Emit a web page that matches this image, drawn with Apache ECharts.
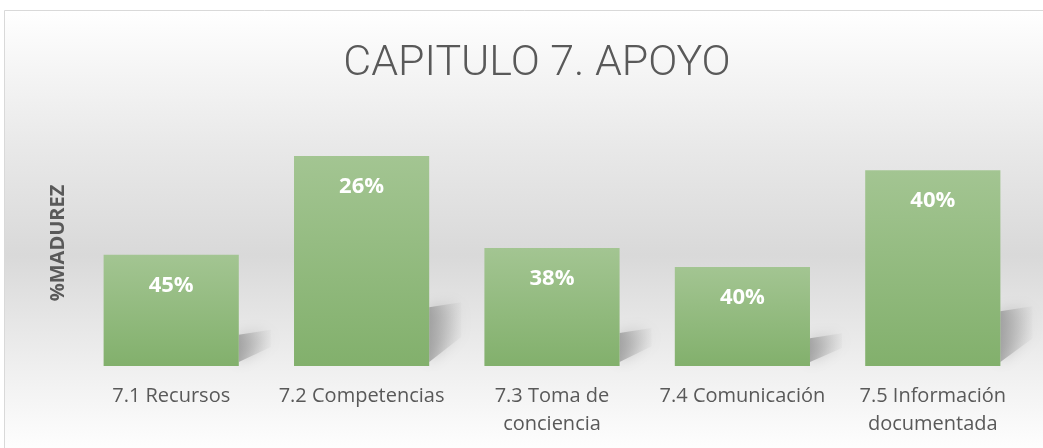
<!DOCTYPE html>
<html>
<head>
<meta charset="utf-8">
<script src="https://cdn.jsdelivr.net/npm/echarts@6/dist/echarts.min.js"></script>
<style>
  html, body { margin: 0; padding: 0; background: #ffffff; }
  #chart { width: 1043px; height: 448px; }
</style>
</head>
<body>
<div id="chart"></div>
<script>
// categorias del eje x
const categorias = ['7.1 Recursos', '7.2 Competencias', '7.3 Toma de\nconciencia', '7.4 Comunicación', '7.5 Información\ndocumentada']
// altura de cada barra (escala 0-5)
const alturas = [2.26, 4.27, 2.40, 2.01, 3.98]
// texto dentro de cada barra
const etiquetas = ['45%', '26%', '38%', '40%', '40%']

const chart = echarts.init(document.getElementById('chart'))

chart.setOption({
    animation: false,
    graphic: [
        {
            type: 'rect',
            z: -10,
            silent: true,
            shape: { x: 4.5, y: 10.5, width: 1045, height: 445 },
            style: {
                stroke: '#d9d9d9',
                lineWidth: 1,
                fill: new echarts.graphic.LinearGradient(0, 0, 0, 1, [
                    { offset: 0, color: '#ffffff' },
                    { offset: 0.3, color: '#e9e9e9' },
                    { offset: 0.55, color: '#d9d9d9' },
                    { offset: 0.8, color: '#efefef' },
                    { offset: 1, color: '#ffffff' }
                ])
            }
        }
    ],
    title: {
        text: 'CAPITULO 7. APOYO',
        left: 532,
        top: 38,
        textAlign: 'center',
        textStyle: {
            fontFamily: 'Roboto',
            fontWeight: 300,
            fontSize: 43,
            color: '#595959'
        }
    },
    grid: {
        left: 76,
        right: 15,
        top: 120,
        bottom: 82
    },
    xAxis: {
        type: 'category',
        data: categorias,
        axisLine: { show: false },
        axisTick: { show: false },
        axisLabel: {
            interval: 0,
            margin: 16,
            fontFamily: 'Open Sans',
            fontSize: 20,
            lineHeight: 28,
            color: '#595959'
        }
    },
    yAxis: {
        type: 'value',
        min: 0,
        max: 5,
        name: '%MADUREZ',
        nameLocation: 'middle',
        nameRotate: 90,
        nameGap: 8,
        nameTextStyle: {
            fontFamily: 'Open Sans',
            fontWeight: 'bold',
            fontSize: 20,
            color: '#595959'
        },
        axisLine: { show: false },
        axisTick: { show: false },
        axisLabel: { show: false },
        splitLine: { show: false }
    },
    series: [
        {
            // sombra difusa a la derecha de cada barra
            type: 'custom',
            z: 1,
            silent: true,
            data: alturas.map((v, i) => [i, v]),
            renderItem: function (params, api) {
                const base = api.coord([api.value(0), 0])
                const top = api.coord([api.value(0), api.value(1)])
                const band = api.size([1, 0])[0]
                const right = base[0] + band * 0.355
                const h = base[1] - top[1]
                const b = base[1]
                return {
                    type: 'polygon',
                    shape: {
                        points: [
                            [right, b - h * 0.28],
                            [right + 32, b - h * 0.28 - 5],
                            [right + 32, b - h * 0.1 - 8],
                            [right, b - 4]
                        ]
                    },
                    style: {
                        fill: new echarts.graphic.LinearGradient(0, 0, 1, 0, [
                            { offset: 0, color: 'rgba(130,130,130,0.6)' },
                            { offset: 1, color: 'rgba(190,190,190,0.1)' }
                        ]),
                        shadowBlur: 14,
                        shadowColor: 'rgba(0,0,0,0.3)'
                    }
                }
            }
        },
        {
            type: 'bar',
            z: 2,
            data: alturas,
            barWidth: '71%',
            itemStyle: {
                color: new echarts.graphic.LinearGradient(0, 0, 0, 1, [
                    { offset: 0, color: '#a3c592' },
                    { offset: 1, color: '#82b06c' }
                ])
            },
            label: {
                show: true,
                position: 'insideTop',
                distance: 20,
                formatter: function (p) {
                    return etiquetas[p.dataIndex]
                },
                fontFamily: 'Open Sans',
                fontWeight: 'bold',
                fontSize: 22,
                color: '#ffffff'
            }
        }
    ]
})
</script>
</body>
</html>
